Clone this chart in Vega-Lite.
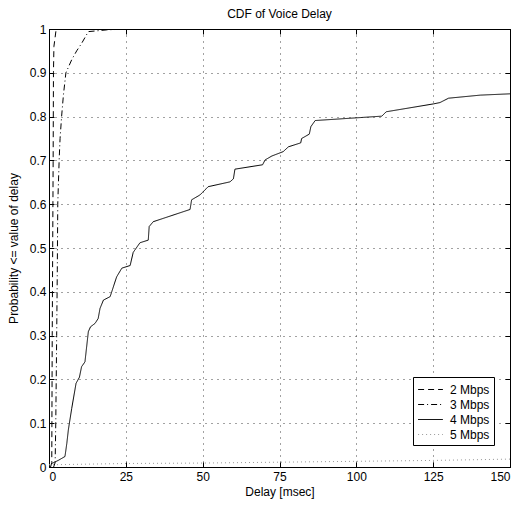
{
  "$schema": "https://vega.github.io/schema/vega-lite/v6.json",
  "width": 461,
  "height": 438,
  "autosize": {"type": "none"},
  "padding": {"left": 49, "top": 29, "right": 11, "bottom": 39},
  "background": "white",
  "title": {"text": "CDF of Voice Delay", "fontSize": 12, "font": "Liberation Sans", "fontWeight": "normal", "offset": 2, "color": "black"},
  "config": {
    "font": "Liberation Sans",
    "view": {"stroke": "black", "strokeWidth": 1},
    "axis": {"labelFont": "Liberation Sans", "labelFontSize": 12, "labelColor": "black", "titleFont": "Liberation Sans", "titleFontSize": 12, "titleFontWeight": "normal", "titleColor": "black", "domainColor": "black", "tickColor": "black", "tickSize": -5, "labelPadding": 10, "gridColor": "#444", "gridDash": [1, 5], "gridWidth": 1}
  },
  "data": {"values": [
    {"series": "2 Mbps", "delay": 0.5, "p": 0},
    {"series": "2 Mbps", "delay": 0.9, "p": 0.01},
    {"series": "2 Mbps", "delay": 1.05, "p": 0.3},
    {"series": "2 Mbps", "delay": 1.2, "p": 0.5},
    {"series": "2 Mbps", "delay": 1.35, "p": 0.7},
    {"series": "2 Mbps", "delay": 1.45, "p": 0.9},
    {"series": "2 Mbps", "delay": 1.6, "p": 0.96},
    {"series": "2 Mbps", "delay": 2.3, "p": 0.998},
    {"series": "2 Mbps", "delay": 3, "p": 1},
    {"series": "2 Mbps", "delay": 25, "p": 1},
    {"series": "3 Mbps", "delay": 1.5, "p": 0},
    {"series": "3 Mbps", "delay": 2.0, "p": 0.01},
    {"series": "3 Mbps", "delay": 2.2, "p": 0.1},
    {"series": "3 Mbps", "delay": 2.5, "p": 0.3},
    {"series": "3 Mbps", "delay": 2.7, "p": 0.45},
    {"series": "3 Mbps", "delay": 2.85, "p": 0.6},
    {"series": "3 Mbps", "delay": 3.3, "p": 0.7},
    {"series": "3 Mbps", "delay": 3.6, "p": 0.75},
    {"series": "3 Mbps", "delay": 4.1, "p": 0.8},
    {"series": "3 Mbps", "delay": 4.7, "p": 0.85},
    {"series": "3 Mbps", "delay": 5.5, "p": 0.9},
    {"series": "3 Mbps", "delay": 7.4, "p": 0.93},
    {"series": "3 Mbps", "delay": 9, "p": 0.95},
    {"series": "3 Mbps", "delay": 10.6, "p": 0.967},
    {"series": "3 Mbps", "delay": 12.8, "p": 0.994},
    {"series": "3 Mbps", "delay": 18.8, "p": 0.998},
    {"series": "3 Mbps", "delay": 25.3, "p": 1},
    {"series": "4 Mbps", "delay": 0.9, "p": 0.008},
    {"series": "4 Mbps", "delay": 3, "p": 0.015},
    {"series": "4 Mbps", "delay": 5.2, "p": 0.024},
    {"series": "4 Mbps", "delay": 5.8, "p": 0.054},
    {"series": "4 Mbps", "delay": 6.3, "p": 0.085},
    {"series": "4 Mbps", "delay": 7.4, "p": 0.134},
    {"series": "4 Mbps", "delay": 8.8, "p": 0.191},
    {"series": "4 Mbps", "delay": 9.9, "p": 0.205},
    {"series": "4 Mbps", "delay": 10.6, "p": 0.229},
    {"series": "4 Mbps", "delay": 11.7, "p": 0.24},
    {"series": "4 Mbps", "delay": 12.8, "p": 0.309},
    {"series": "4 Mbps", "delay": 13.5, "p": 0.32},
    {"series": "4 Mbps", "delay": 15, "p": 0.328},
    {"series": "4 Mbps", "delay": 16, "p": 0.339},
    {"series": "4 Mbps", "delay": 16.6, "p": 0.362},
    {"series": "4 Mbps", "delay": 17.7, "p": 0.381},
    {"series": "4 Mbps", "delay": 19.9, "p": 0.389},
    {"series": "4 Mbps", "delay": 22, "p": 0.434},
    {"series": "4 Mbps", "delay": 23.7, "p": 0.454},
    {"series": "4 Mbps", "delay": 26.4, "p": 0.46},
    {"series": "4 Mbps", "delay": 27.4, "p": 0.49},
    {"series": "4 Mbps", "delay": 29.6, "p": 0.512},
    {"series": "4 Mbps", "delay": 32.3, "p": 0.518},
    {"series": "4 Mbps", "delay": 32.6, "p": 0.549},
    {"series": "4 Mbps", "delay": 33.9, "p": 0.56},
    {"series": "4 Mbps", "delay": 45.9, "p": 0.588},
    {"series": "4 Mbps", "delay": 46.4, "p": 0.61},
    {"series": "4 Mbps", "delay": 49.1, "p": 0.621},
    {"series": "4 Mbps", "delay": 51.8, "p": 0.64},
    {"series": "4 Mbps", "delay": 58.9, "p": 0.651},
    {"series": "4 Mbps", "delay": 60, "p": 0.658},
    {"series": "4 Mbps", "delay": 60.5, "p": 0.68},
    {"series": "4 Mbps", "delay": 69.5, "p": 0.69},
    {"series": "4 Mbps", "delay": 70.3, "p": 0.701},
    {"series": "4 Mbps", "delay": 72.5, "p": 0.71},
    {"series": "4 Mbps", "delay": 76.2, "p": 0.72},
    {"series": "4 Mbps", "delay": 77.9, "p": 0.731},
    {"series": "4 Mbps", "delay": 81.9, "p": 0.74},
    {"series": "4 Mbps", "delay": 82.2, "p": 0.75},
    {"series": "4 Mbps", "delay": 84.7, "p": 0.76},
    {"series": "4 Mbps", "delay": 85.2, "p": 0.777},
    {"series": "4 Mbps", "delay": 86.6, "p": 0.791},
    {"series": "4 Mbps", "delay": 108.3, "p": 0.801},
    {"series": "4 Mbps", "delay": 109.7, "p": 0.811},
    {"series": "4 Mbps", "delay": 125.1, "p": 0.829},
    {"series": "4 Mbps", "delay": 127.2, "p": 0.832},
    {"series": "4 Mbps", "delay": 130, "p": 0.842},
    {"series": "4 Mbps", "delay": 140.3, "p": 0.849},
    {"series": "4 Mbps", "delay": 150, "p": 0.852},
    {"series": "5 Mbps", "delay": 0, "p": 0.005},
    {"series": "5 Mbps", "delay": 25, "p": 0.008},
    {"series": "5 Mbps", "delay": 50, "p": 0.009},
    {"series": "5 Mbps", "delay": 75, "p": 0.011},
    {"series": "5 Mbps", "delay": 100, "p": 0.013},
    {"series": "5 Mbps", "delay": 125, "p": 0.015},
    {"series": "5 Mbps", "delay": 150, "p": 0.018}
  ]},
  "resolve": {"axis": {"x": "independent", "y": "independent"}},
  "layer": [
    {
      "mark": {"type": "line", "strokeWidth": 1, "clip": true},
      "encoding": {
        "x": {"field": "delay", "type": "quantitative", "scale": {"domain": [0, 150], "nice": false, "zero": false},
              "axis": {"title": "Delay [msec]", "values": [0, 25, 50, 75, 100, 125, 150], "grid": true, "titlePadding": 4, "labelPadding": 9}},
        "y": {"field": "p", "type": "quantitative", "scale": {"domain": [0, 1], "nice": false},
              "axis": {"title": "Probability <= value of delay", "values": [0, 0.1, 0.2, 0.3, 0.4, 0.5, 0.6, 0.7, 0.8, 0.9, 1], "format": ".1~f", "grid": true, "titlePadding": 9, "labelPadding": 8}},
        "strokeDash": {"field": "series", "type": "nominal",
              "scale": {"domain": ["2 Mbps", "3 Mbps", "4 Mbps", "5 Mbps"], "range": [[6, 4], [6, 3, 1, 3], [1, 0], [1, 3]]},
              "legend": {"orient": "none", "legendX": 364, "legendY": 348, "title": null, "strokeColor": "black", "fillColor": "white", "padding": 4, "symbolType": "M-1.6,0H1.6", "symbolSize": 240, "symbolOffset": 5, "labelOffset": 11, "symbolStrokeWidth": 1, "labelFontSize": 12, "labelFont": "Liberation Sans", "labelColor": "black", "rowPadding": 0}},
        "color": {"field": "series", "type": "nominal",
              "scale": {"domain": ["2 Mbps", "3 Mbps", "4 Mbps", "5 Mbps"], "range": ["black", "black", "black", "#999999"]},
              "legend": {"orient": "none", "legendX": 364, "legendY": 348, "title": null, "strokeColor": "black", "fillColor": "white", "padding": 4, "symbolType": "M-1.6,0H1.6", "symbolSize": 240, "symbolOffset": 5, "labelOffset": 11, "symbolStrokeWidth": 1, "labelFontSize": 12, "labelFont": "Liberation Sans", "labelColor": "black", "rowPadding": 0}}
      }
    },
    {
      "mark": {"type": "line", "opacity": 0},
      "encoding": {
        "x": {"field": "delay", "type": "quantitative", "scale": {"domain": [0, 150], "nice": false, "zero": false},
              "axis": {"orient": "top", "title": null, "labels": false, "values": [0, 25, 50, 75, 100, 125, 150], "grid": false}},
        "y": {"field": "p", "type": "quantitative", "scale": {"domain": [0, 1], "nice": false},
              "axis": {"orient": "right", "title": null, "labels": false, "values": [0, 0.1, 0.2, 0.3, 0.4, 0.5, 0.6, 0.7, 0.8, 0.9, 1], "grid": false}},
        "detail": {"field": "series", "type": "nominal"}
      }
    }
  ]
}
